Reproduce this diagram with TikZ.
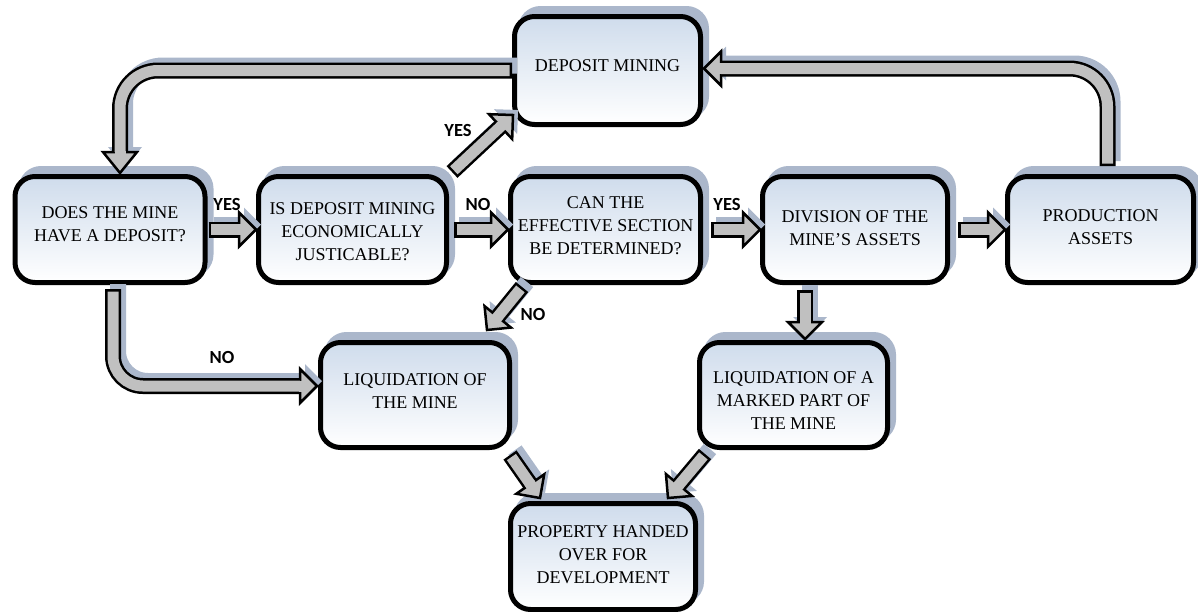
\documentclass[tikz,border=0pt]{standalone}
\usepackage{fontspec}
\setmainfont{Liberation Serif}
\newfontfamily\labfont{Carlito}
\usetikzlibrary{calc,shadows}
\definecolor{shadowc}{HTML}{ABB7CB}
\definecolor{arrowgrey}{HTML}{C0C0C0}
\definecolor{boxtop}{HTML}{CFDCEC}
\tikzset{
  box/.style={rectangle, rounded corners=20pt, line width=5pt, draw=black,
    top color=boxtop, bottom color=white, minimum width=190pt, minimum height=106pt,
    align=center, inner sep=0pt, font=\fontsize{18}{23}\selectfont,
    general shadow={fill=shadowc, draw=shadowc, shadow xshift=6pt, shadow yshift=8pt}},
  lab/.style={font=\labfont\bfseries\fontsize{18.5}{20}\selectfont, inner sep=0pt},
}
% #1 path start (ending with a connector), #2 base coordinate, #3 tip coordinate, #4 corner radius
\newcommand\barrow[4]{%
  \begin{scope}[transform canvas={xshift=5pt,yshift=5pt}]
    \draw[shadowc, line width=16pt, rounded corners=#4] #1 (#2);
    \fill[shadowc] (#3) -- ($(#2)!17pt!90:(#3)$) -- ($(#2)!17pt!-90:(#3)$) -- cycle;
  \end{scope}
  \draw[black, line width=16pt, rounded corners=#4] #1 (#2);
  \filldraw[fill=arrowgrey, draw=black, line width=2.5pt, line join=miter]
    (#3) -- ($(#2)!17pt!90:(#3)$) -- ($(#2)!17pt!-90:(#3)$) -- cycle;
  \draw[arrowgrey, line width=11pt, rounded corners=#4, shorten <=2.5pt] #1 (#2);
  \draw[arrowgrey, line width=11pt] ($(#2)!-1pt!(#3)$) -- ($(#2)!4pt!(#3)$);
}
\begin{document}
\begin{tikzpicture}[x=1pt,y=-1pt]
\useasboundingbox (0,0) rectangle (1198,611);

% boxes
\node[box, text depth=10pt] (n1) at (110,229.5) {DOES THE MINE\\HAVE A DEPOSIT?};
\node[box, minimum width=188pt] (n2) at (352.5,229.5) {\rule{0pt}{16pt}IS DEPOSIT MINING\\ECONOMICALLY\\JUSTICABLE?};
\node[box, text depth=8pt] (n3) at (605.5,229.5) {CAN THE\\EFFECTIVE SECTION\\BE DETERMINED?};
\node[box, minimum width=185pt, text depth=2pt] (n4) at (855,229.5) {DIVISION OF THE\\MINE'S ASSETS};
\node[box, minimum width=186pt, text depth=4pt] (n5) at (1100.5,229.5) {PRODUCTION\\ASSETS};
\node[box, minimum width=186pt, minimum height=108pt, text depth=10pt] (n6) at (607.5,70.5) {DEPOSIT MINING};
\node[box, minimum width=189pt, minimum height=105pt, text depth=8pt] (n7) at (415,395) {LIQUIDATION OF\\THE MINE};
\node[box, minimum width=188pt, minimum height=105pt] (n8) at (793.5,395) {\rule{0pt}{22pt}LIQUIDATION OF A\\MARKED PART OF\\THE MINE};
\node[box, minimum width=185pt, text depth=4pt] (n9) at (603,556.5) {PROPERTY HANDED\\OVER FOR\\DEVELOPMENT};

% straight horizontal arrows
\coordinate (t12) at (n2.west); \coordinate (b12) at ($(t12)+(-17,0)$);
\barrow{($(n1.east)+(1,0)$) --}{b12}{t12}{0.1pt}
\coordinate (t23) at (n3.west); \coordinate (b23) at ($(t23)+(-17,0)$);
\barrow{($(n2.east)+(5,0)$) --}{b23}{t23}{0.1pt}
\coordinate (t34) at (n4.west); \coordinate (b34) at ($(t34)+(-17,0)$);
\barrow{($(n3.east)+(8,0)$) --}{b34}{t34}{0.1pt}
\coordinate (t45) at (n5.west); \coordinate (b45) at ($(t45)+(-17,0)$);
\barrow{($(n4.east)+(8,0)$) --}{b45}{t45}{0.1pt}

% diagonal YES to deposit mining
\coordinate (s26) at ($(n2.north east)+(3,-2)$);
\coordinate (t26) at ($(n6.south west)+(1,-12)$);
\coordinate (b26) at ($(t26)!17pt!(s26)$);
\barrow{(s26) --}{b26}{t26}{0.1pt}

% deposit mining back to first box
\coordinate (t61) at ($(n1.north)+(10,-1)$);
\coordinate (b61) at ($(t61)+(0,-21)$);
\barrow{(n6.west) -|}{b61}{t61}{38pt}

% production assets back to deposit mining
\coordinate (t56) at ($(n6.east)+(1,-2)$);
\coordinate (b56) at ($(t56)+(17,0)$);
\barrow{($(n5.north)+(7,-8)$) |-}{b56}{t56}{38pt}

% first box NO to liquidation
\coordinate (s17) at ($(n1.south)+(3,4)$);
\coordinate (t17) at ($(n7.west)+(-1,-9)$);
\coordinate (b17) at ($(t17)+(-17,0)$);
\barrow{(s17) |-}{b17}{t17}{30pt}

% effective section NO to liquidation
\coordinate (s37) at ($(n3.south west)+(14,2)$);
\coordinate (t37) at ($(n7.north east)+(-25,-10)$);
\coordinate (b37) at ($(t37)!17pt!(s37)$);
\barrow{(s37) --}{b37}{t37}{0.1pt}

% division to liquidation of marked part
\coordinate (s48) at ($(n4.south)+(-50,5)$);
\coordinate (t48) at ($(s48 |- n8.north)+(0,-1)$);
\coordinate (b48) at ($(t48)+(0,-17)$);
\barrow{(s48) --}{b48}{t48}{0.1pt}

% liquidations to property
\coordinate (s79) at ($(n7.south east)+(-2,5)$);
\coordinate (t79) at ($(n9.north west)+(32,-3)$);
\coordinate (b79) at ($(t79)!17pt!(s79)$);
\barrow{(s79) --}{b79}{t79}{0.1pt}
\coordinate (s89) at ($(n8.south west)+(8,4)$);
\coordinate (t89) at ($(n9.north east)+(-30,-3)$);
\coordinate (b89) at ($(t89)!17pt!(s89)$);
\barrow{(s89) --}{b89}{t89}{0.1pt}

% labels
\node[lab] (ly1) at (227,204) {YES};
\node[lab] (ln1) at (478,204) {NO};
\node[lab] (ly3) at (727,204) {YES};
\node[lab] (ly2) at (458,130) {YES};
\node[lab] (ln2) at (533,314) {NO};
\node[lab] (ln3) at (222,357) {NO};
\end{tikzpicture}
\end{document}
